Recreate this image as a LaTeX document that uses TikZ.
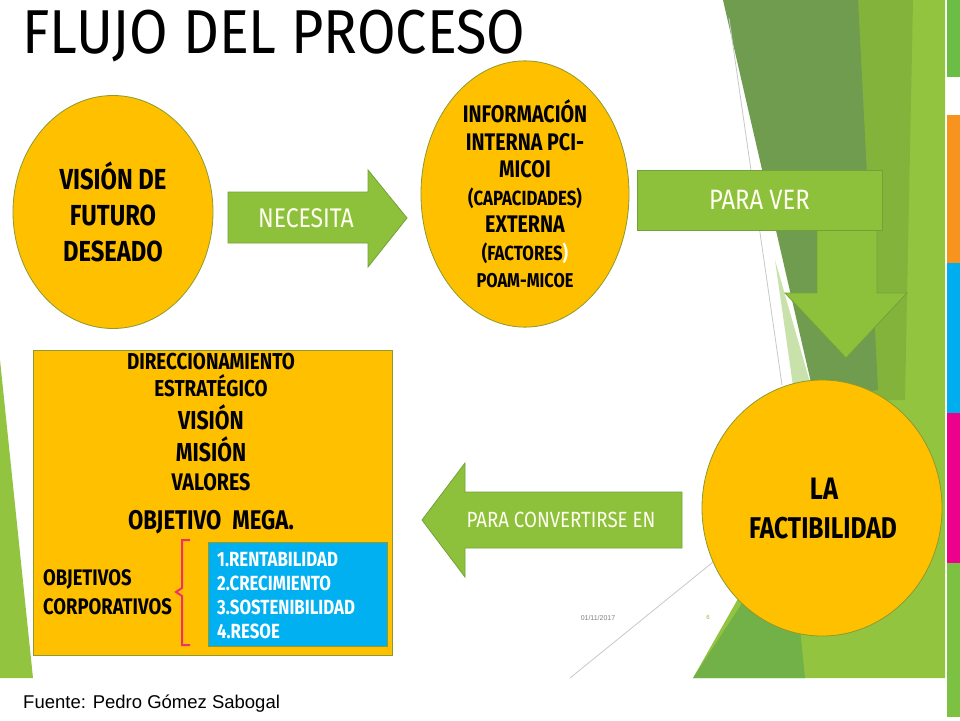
\documentclass[tikz,border=0pt]{standalone}
\usepackage{fontspec}
\setmainfont{Fira Sans}
\newfontfamily\twcen[FakeStretch=0.85]{Fira Sans}
\newfontfamily\twcenbold[FakeStretch=0.82]{Fira Sans}
\newfontfamily\titlefont[FakeStretch=0.90]{Fira Sans}
\newfontfamily\arialfont{Liberation Sans}
\usepackage{tikz}
\usetikzlibrary{shapes.geometric,positioning}

\definecolor{bubblefill}{HTML}{FFC000}
\definecolor{bubbleline}{HTML}{8C9A2E}
\definecolor{arrowfill}{HTML}{8EC13B}
\definecolor{arrowline}{HTML}{71A23A}
\definecolor{arrowtext}{HTML}{FFFFF2}
\definecolor{blueitems}{HTML}{00B0F0}
\definecolor{bracered}{HTML}{F0306A}
\definecolor{facetdark}{HTML}{6F9C4F}
\definecolor{facetmid}{HTML}{83B33B}
\definecolor{facetlight}{HTML}{93C440}
\definecolor{facetpale}{HTML}{C9E1AB}
\definecolor{facetlow}{HTML}{72B148}
\definecolor{guide}{HTML}{C8C8C8}
\definecolor{stripgreen}{HTML}{6CBD45}
\definecolor{striporange}{HTML}{F7941D}
\definecolor{stripblue}{HTML}{00AEEF}
\definecolor{strippink}{HTML}{EC008C}
\definecolor{striplow}{HTML}{7CC142}

\newcommand{\setfs}[2]{\fontsize{#1}{#2}\selectfont}

\begin{document}
\begin{tikzpicture}[
  x=1pt, y=-1pt,
  bubble/.style={ellipse, draw=bubbleline, line width=0.8pt, fill=bubblefill,
                 inner sep=0pt, align=center, font=\twcenbold\bfseries},
  blockarrow/.style={fill=arrowfill, draw=arrowline, line width=0.8pt},
  arrowlabel/.style={text=arrowtext, inner sep=0pt, font=\twcen\setfs{27}{30}},
  boxline/.style={anchor=base, inner sep=0pt, font=\twcenbold\bfseries\setfs{23}{26}},
  panel/.style={rectangle, draw=bubbleline, line width=0.8pt, anchor=north west},
]
  \useasboundingbox (0,0) rectangle (960,720);
  \fill[white] (0,0) rectangle (960,720);

  % slide facets
  \fill[facetlight] (835,0) -- (945,0) -- (945,678) -- (693,678) -- (760,560) -- (830,400) -- cycle;
  \fill[facetmid] (853,0) -- (913,0) -- (905,400) -- (872,400) -- cycle;
  \fill[facetdark] (723,0) -- (858,0) -- (878,390) -- (815,400) -- cycle;
  \fill[facetpale] (775,260) -- (815,400) -- (795,400) -- cycle;
  \fill[facetlow] (693,678) -- (790,530) -- (805,678) -- cycle;
  \fill[facetlight] (0,360) -- (33,678) -- (0,678) -- cycle;
  \draw[guide, line width=0.8pt] (729,18) -- (782,385);
  \draw[guide, line width=0.8pt] (570,678) -- (713,562);

  % colour strip at the right edge
  \fill[stripgreen] (947,0) rectangle (960,77);
  \fill[striporange] (947,115) rectangle (960,263);
  \fill[stripblue] (947,263) rectangle (960,413);
  \fill[strippink] (947,413) rectangle (960,563);
  \fill[striplow] (947,563) rectangle (960,717);

  % title and source
  \node[anchor=west, inner sep=0pt, font=\titlefont\setfs{62}{62}] (title) at (22,36) {FLUJO DEL PROCESO};
  \node[anchor=base west, inner sep=0pt, font=\arialfont\setfs{18.5}{18.5}] (fuente) at (23,708) {Fuente: Pedro Gómez Sabogal};

  % row 1: vision -> information
  \node[bubble, minimum width=200pt, minimum height=233pt, font=\twcenbold\bfseries\setfs{29}{36}] (vision) at (113,212)
    {VISIÓN DE\\FUTURO\\DESEADO};
  \filldraw[blockarrow] (228,192) -- (368,192) -- (368,170) -- (407,218) -- (368,267) -- (368,243) -- (228,243) -- cycle;
  \node[arrowlabel] (necesita) at (306,218) {NECESITA};
  \node[bubble, minimum width=208pt, minimum height=234pt, font=\twcenbold\bfseries\setfs{24}{27.5}] (info) at (525,194)
    {INFORMACIÓN\\INTERNA PCI-\\MICOI\\{\setfs{20.5}{27.5}(CAPACIDADES)}\\EXTERNA\\
     {\setfs{20.5}{27.5}(FACTORES\textcolor{arrowtext}{)}}\\{\setfs{20}{27.5}POAM-MICOE}};

  % para ver, down to factibility
  \filldraw[blockarrow] (817,215) -- (877,215) -- (877,293) -- (907,293) -- (846,358) -- (785,293) -- (817,293) -- cycle;
  \node[rectangle, fill=arrowfill, draw=arrowline, line width=0.8pt, minimum width=245pt, minimum height=60pt,
        text=arrowtext, font=\twcen\setfs{28}{30}] (paraver) at (759.5,200) {PARA VER};
  \node[bubble, minimum width=240pt, minimum height=256pt] (factib) at (822,508) {};
  \node[anchor=base, inner sep=0pt, font=\twcenbold\bfseries\setfs{31}{31}] (la) at (824,499) {LA};
  \node[anchor=base, inner sep=0pt, font=\twcenbold\bfseries\setfs{30}{30}] (factible) at (823,538) {FACTIBILIDAD};

  % back to the strategic direction
  \filldraw[blockarrow] (682,492) -- (465,492) -- (465,463) -- (422,520) -- (465,577) -- (465,548) -- (682,548) -- cycle;
  \node[arrowlabel, font=\twcen\setfs{22}{26}] (convertir) at (561,520) {PARA CONVERTIRSE EN};
  \node[panel, fill=bubblefill, minimum width=359pt, minimum height=305pt] (direc) at (33,350) {};
  \node[boxline] (dir1) at (211,369) {DIRECCIONAMIENTO};
  \node[boxline] (dir2) at (211,396) {ESTRATÉGICO};
  \node[boxline, font=\twcenbold\bfseries\setfs{26}{30}] (dir3) at (211,429) {VISIÓN};
  \node[boxline, font=\twcenbold\bfseries\setfs{26}{30}] (dir4) at (211,461) {MISIÓN};
  \node[boxline, font=\twcenbold\bfseries\setfs{24}{28}] (dir5) at (211,490) {VALORES};
  \node[boxline, font=\twcenbold\bfseries\setfs{27}{30}] (mega) at (211,529) {OBJETIVO\hspace{11pt}MEGA.};
  \node[anchor=west, align=left, inner sep=0pt, font=\twcenbold\bfseries\setfs{22.5}{29}] (corp) at (43,592)
    {OBJETIVOS\\CORPORATIVOS};
  \draw[bracered, line width=2pt] (190,540) -- (182,540) -- (182,588) -- (176,592) -- (182,596) -- (182,645) -- (190,645);
  \node[panel, fill=blueitems, minimum width=179pt, minimum height=104pt] (metas) at (208,542) {};
  \node[anchor=west, align=left, inner sep=0pt, text=white, font=\twcenbold\bfseries\setfs{20.5}{24}] (lista) at (217,596)
    {1.RENTABILIDAD\\2.CRECIMIENTO\\3.SOSTENIBILIDAD\\4.RESOE};

  % slide footer
  \node[text=gray, font=\arialfont\setfs{7}{7}] (fecha) at (598,618) {01/11/2017};
  \node[text=arrowfill, font=\arialfont\setfs{6}{6}] (numero) at (708,617) {6};
\end{tikzpicture}
\end{document}
